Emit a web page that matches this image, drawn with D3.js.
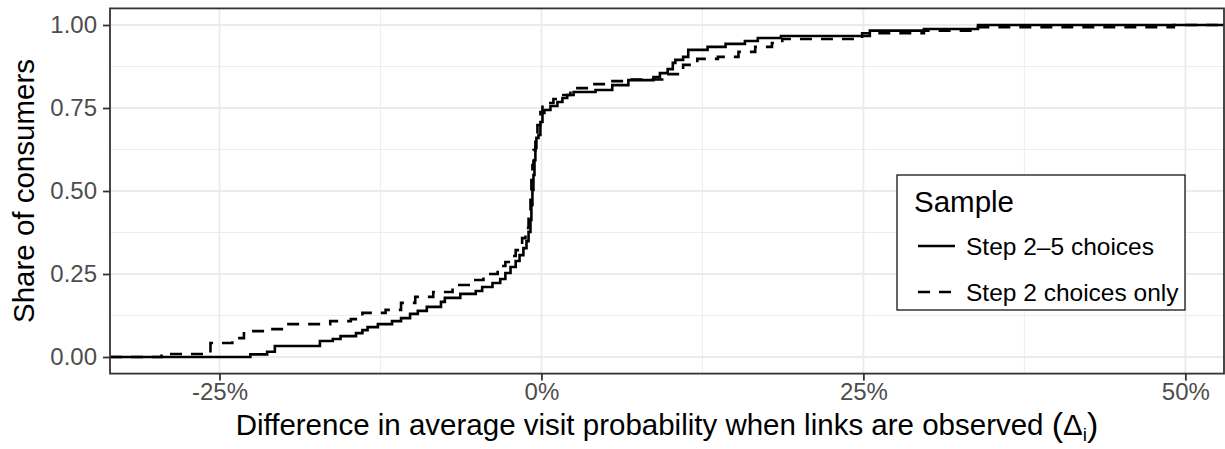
<!DOCTYPE html>
<html>
<head>
<meta charset="utf-8">
<script src="https://cdn.jsdelivr.net/npm/d3@7"></script>
<style>
  html, body { margin: 0; padding: 0; background: #fff; }
  svg { display: block; font-family: "Liberation Sans", Arial, Helvetica, sans-serif; }
</style>
</head>
<body>
<svg id="chart" width="1225" height="449"></svg>
<script>
// ---- Data (differences in %, cumulative share) ----
const seriesNames = ["Step 2\u20135 choices", "Step 2 choices only"];

const solidDiff = [-29.5, -22.6, -21.3, -20.7, -17.2, -16.2, -15.6, -14.4, -13.9, -13.5, -12.7, -11.6, -10.9, -10.2, -9.6, -8.9, -7.8, -7.5, -6.3, -5.1, -4.6, -3.8, -3.2, -2.8, -2.4, -2.0, -1.7, -1.4, -1.16, -1.0, -0.85, -0.78, -0.70, -0.62, -0.54, -0.47, -0.39, -0.23, -0.08, 0.08, 0.23, 0.70, 1.24, 1.63, 2.0, 2.5, 4.2, 5.5, 6.75, 8.7, 9.2, 9.8, 10.2, 10.4, 11.0, 11.4, 12.9, 14.3, 15.8, 16.8, 18.6, 25.5, 29.7, 33.9];
const solidShare = [0, 0.008, 0.016, 0.033, 0.048, 0.054, 0.063, 0.072, 0.081, 0.090, 0.099, 0.108, 0.117, 0.130, 0.139, 0.151, 0.166, 0.178, 0.190, 0.199, 0.211, 0.223, 0.235, 0.253, 0.271, 0.289, 0.307, 0.328, 0.349, 0.377, 0.413, 0.458, 0.503, 0.548, 0.593, 0.630, 0.660, 0.669, 0.708, 0.735, 0.744, 0.756, 0.768, 0.780, 0.789, 0.798, 0.804, 0.819, 0.834, 0.843, 0.855, 0.867, 0.886, 0.895, 0.904, 0.925, 0.934, 0.943, 0.952, 0.961, 0.967, 0.983, 0.988, 1.0];

const dashedDiff = [-29.5, -25.7, -24.0, -23.1, -21.3, -19.9, -16.4, -14.8, -13.9, -12.1, -10.9, -9.8, -8.4, -6.9, -5.5, -4.5, -3.4, -2.8, -2.4, -2.0, -1.7, -1.5, -1.24, -1.0, -0.85, -0.78, -0.70, -0.62, -0.47, -0.31, -0.08, 0.08, 0.93, 1.3, 2.25, 3.8, 5.0, 6.5, 9.6, 11.0, 12.1, 13.7, 15.3, 16.6, 17.9, 18.7, 24.9, 29.7, 33.9, 49.1];
const dashedShare = [0.009, 0.042, 0.057, 0.078, 0.084, 0.099, 0.108, 0.114, 0.133, 0.142, 0.163, 0.181, 0.196, 0.217, 0.232, 0.250, 0.274, 0.286, 0.304, 0.322, 0.337, 0.358, 0.389, 0.428, 0.479, 0.533, 0.578, 0.623, 0.660, 0.699, 0.738, 0.765, 0.777, 0.789, 0.810, 0.822, 0.831, 0.836, 0.852, 0.880, 0.898, 0.904, 0.919, 0.934, 0.946, 0.958, 0.975, 0.983, 0.993, 1.0];

const xTicks = [-25, 0, 25, 50];
const xTickLabels = ["-25%", "0%", "25%", "50%"];
const xMinor = [-37.5, -12.5, 12.5, 37.5];
const yTicks = [0, 0.25, 0.5, 0.75, 1];
const yTickLabels = ["0.00", "0.25", "0.50", "0.75", "1.00"];
const yMinor = [0.125, 0.375, 0.625, 0.875];

// ---- Layout ----
const svg = d3.select("#chart");
const pLeft = 110, pRight = 1224, pTop = 8.4, pBottom = 373.6;
const xDomain = [-33.5, 53.0];
const tickFont = "24px", legFont = "24.5px", titleFont = "29.5px";

const x = d3.scaleLinear().domain(xDomain).range([pLeft, pRight]);
const y = d3.scaleLinear().domain([-0.05, 1.05]).range([pBottom, pTop]);

svg.append("rect").attr("x", pLeft).attr("y", pTop).attr("width", pRight - pLeft).attr("height", pBottom - pTop).attr("fill", "#fff");

const grid = svg.append("g");
grid.selectAll(".xmin").data(xMinor.filter(d => d > xDomain[0] && d < xDomain[1])).enter().append("line")
  .attr("x1", d => x(d)).attr("x2", d => x(d)).attr("y1", pTop).attr("y2", pBottom)
  .attr("stroke", "#ebebeb").attr("stroke-width", 0.9);
grid.selectAll(".ymin").data(yMinor).enter().append("line")
  .attr("x1", pLeft).attr("x2", pRight).attr("y1", d => y(d)).attr("y2", d => y(d))
  .attr("stroke", "#ebebeb").attr("stroke-width", 0.9);
grid.selectAll(".xmaj").data(xTicks).enter().append("line")
  .attr("x1", d => x(d)).attr("x2", d => x(d)).attr("y1", pTop).attr("y2", pBottom)
  .attr("stroke", "#ebebeb").attr("stroke-width", 1.8);
grid.selectAll(".ymaj").data(yTicks).enter().append("line")
  .attr("x1", pLeft).attr("x2", pRight).attr("y1", d => y(d)).attr("y2", d => y(d))
  .attr("stroke", "#ebebeb").attr("stroke-width", 1.8);

// ---- Lines ----
function pts(xs, ys) {
  const p = [[xDomain[0], 0]];
  xs.forEach((v, i) => p.push([v, ys[i]]));
  p.push([xDomain[1], ys[ys.length - 1]]);
  return p;
}
const line = d3.line().x(d => x(d[0])).y(d => y(d[1])).curve(d3.curveStepAfter);

svg.append("clipPath").attr("id", "clip").append("rect")
  .attr("x", pLeft).attr("y", pTop).attr("width", pRight - pLeft).attr("height", pBottom - pTop);

const lines = svg.append("g").attr("clip-path", "url(#clip)");
lines.append("path").datum(pts(dashedDiff, dashedShare)).attr("d", line)
  .attr("fill", "none").attr("stroke", "#000").attr("stroke-width", 2.6)
  .attr("stroke-dasharray", "12,9");
lines.append("path").datum(pts(solidDiff, solidShare)).attr("d", line)
  .attr("fill", "none").attr("stroke", "#000").attr("stroke-width", 2.6);

// ---- Axes ----
const xAxis = d3.axisBottom(x).tickValues(xTicks).tickFormat((d, i) => xTickLabels[i]).tickSize(7).tickPadding(2);
const gx = svg.append("g").attr("transform", `translate(0,${pBottom})`).call(xAxis);
gx.select(".domain").remove();
gx.selectAll(".tick line").attr("stroke", "#333").attr("stroke-width", 1.8);
gx.selectAll(".tick text").attr("fill", "#4d4d4d").style("font-size", tickFont)
  .style("font-family", "'Liberation Sans', Arial, sans-serif");

const yAxis = d3.axisLeft(y).tickValues(yTicks).tickFormat((d, i) => yTickLabels[i]).tickSize(7).tickPadding(6);
const gy = svg.append("g").attr("transform", `translate(${pLeft},0)`).call(yAxis);
gy.select(".domain").remove();
gy.selectAll(".tick line").attr("stroke", "#333").attr("stroke-width", 1.8);
gy.selectAll(".tick text").attr("fill", "#4d4d4d").style("font-size", tickFont)
  .style("font-family", "'Liberation Sans', Arial, sans-serif");

svg.append("rect").attr("x", pLeft).attr("y", pTop).attr("width", pRight - pLeft).attr("height", pBottom - pTop)
  .attr("fill", "none").attr("stroke", "#333").attr("stroke-width", 1.8);

// ---- Axis titles ----
const xt = svg.append("text").attr("x", (pLeft + pRight) / 2).attr("y", 435)
  .attr("text-anchor", "middle").attr("fill", "#000").style("font-size", titleFont);
xt.append("tspan").text("Difference in average visit probability when links are observed ");
xt.append("tspan").style("font-size", "34px").attr("dy", 1).text("(");
xt.append("tspan").style("font-size", titleFont).attr("dy", -1).text("\u0394");
xt.append("tspan").style("font-size", "19px").attr("dy", 6).text("i");
xt.append("tspan").style("font-size", "34px").attr("dy", -5).text(")");

svg.append("text").attr("transform", `translate(34,${(pTop + pBottom) / 2}) rotate(-90)`)
  .attr("text-anchor", "middle").attr("fill", "#000").style("font-size", titleFont).text("Share of consumers");

// ---- Legend ----
const lg = svg.append("g");
lg.append("rect").attr("x", 897).attr("y", 175).attr("width", 288).attr("height", 135)
  .attr("fill", "#fff").attr("stroke", "#000").attr("stroke-width", 1.2);
lg.append("text").attr("x", 914).attr("y", 212).style("font-size", titleFont).attr("fill", "#000").text("Sample");
const legY = [246, 292];
const dashes = [null, "12,9"];
seriesNames.forEach((name, i) => {
  lg.append("line").attr("x1", 918).attr("x2", 955).attr("y1", legY[i]).attr("y2", legY[i])
    .attr("stroke", "#000").attr("stroke-width", 2.6).attr("stroke-dasharray", dashes[i]);
  lg.append("text").attr("x", 966).attr("y", legY[i] + 9).style("font-size", legFont).attr("fill", "#000").text(name);
});
</script>
</body>
</html>
